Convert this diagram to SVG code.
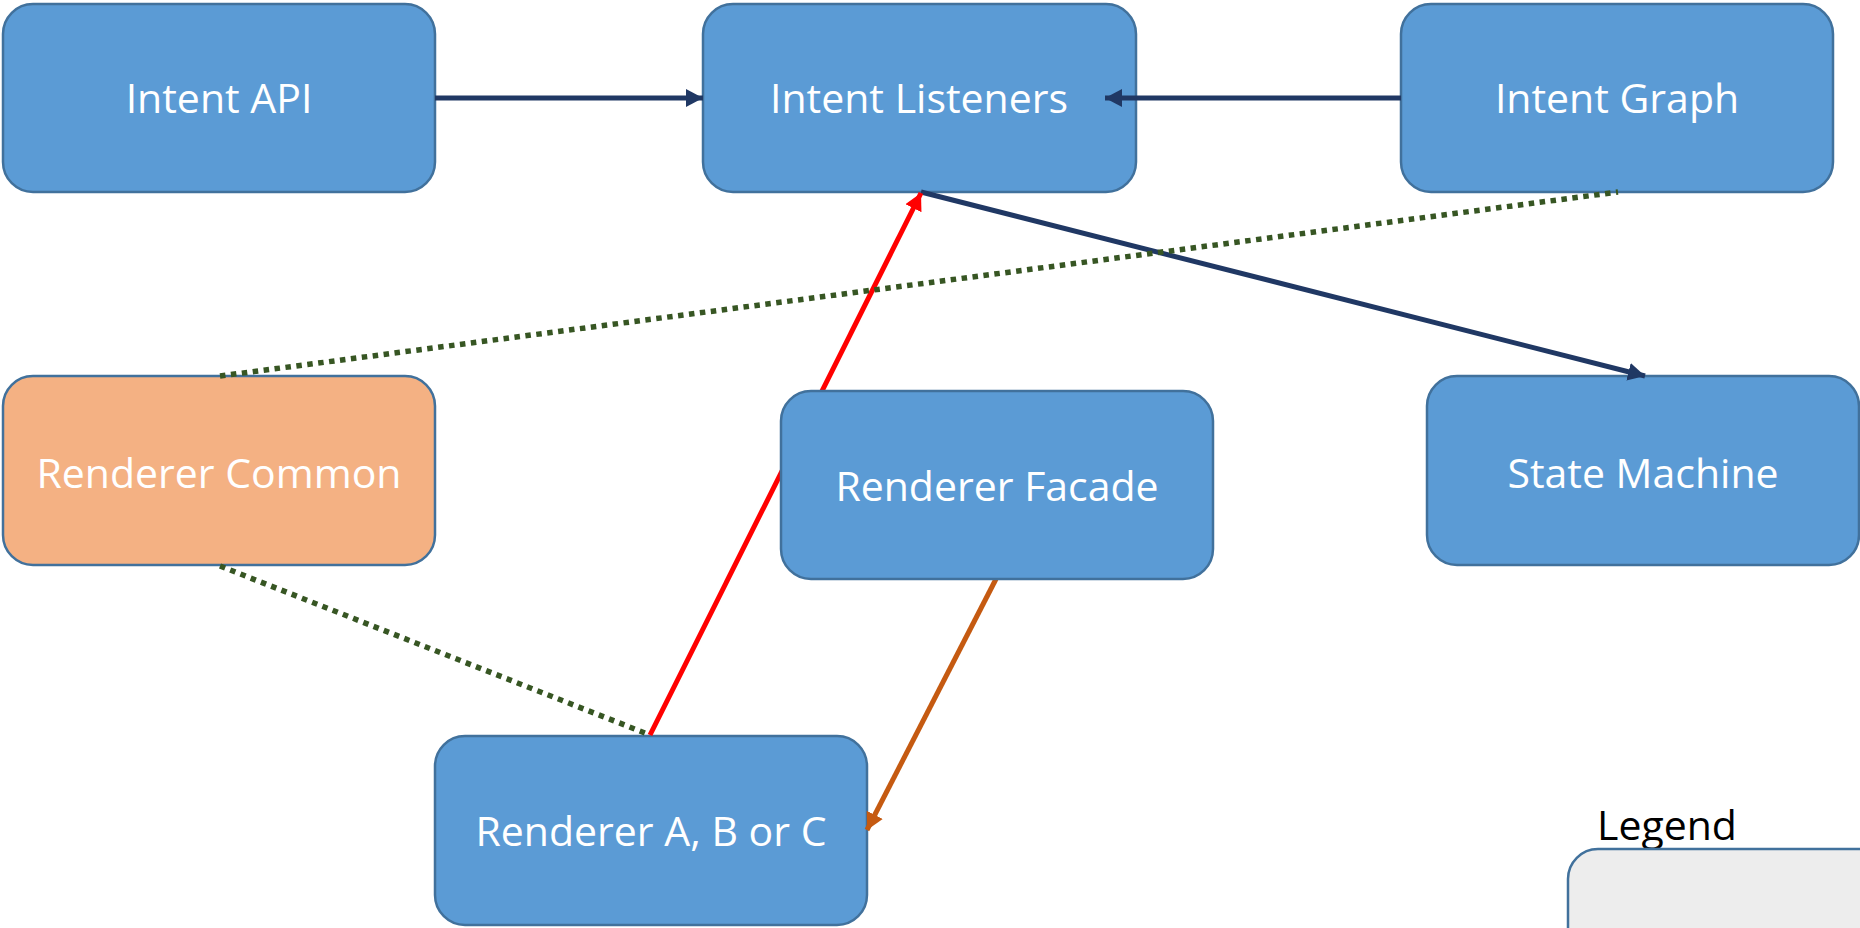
<svg xmlns="http://www.w3.org/2000/svg" width="1860" height="928" viewBox="0 0 1860 928">
<defs>
<style>
.node{fill:#5B9BD5;stroke:#41719C;stroke-width:2.5}
.orange{fill:#F4B183}
.lbl{font-family:"Open Sans","Liberation Sans",sans-serif;font-size:41px;fill:#FFFFFF;text-anchor:middle}
.navy{stroke:#203864;stroke-width:5;fill:none}
.red{stroke:#FF0000;stroke-width:5;fill:none}
.brown{stroke:#C55A11;stroke-width:5;fill:none}
.dot{stroke:#375623;stroke-width:5.5;fill:none;stroke-dasharray:5.5 5.5}
</style>
<marker id="aNavy" markerUnits="userSpaceOnUse" markerWidth="19" markerHeight="18" refX="17" refY="9" orient="auto"><path d="M0,0 L17,9 L0,18 Z" fill="#203864"/></marker>
<marker id="aRed" markerUnits="userSpaceOnUse" markerWidth="19" markerHeight="18" refX="17" refY="9" orient="auto"><path d="M0,0 L17,9 L0,18 Z" fill="#FF0000"/></marker>
<marker id="aBrown" markerUnits="userSpaceOnUse" markerWidth="19" markerHeight="18" refX="17" refY="9" orient="auto"><path d="M0,0 L17,9 L0,18 Z" fill="#C55A11"/></marker>
</defs>
<rect width="1860" height="928" fill="#FFFFFF"/>
<g id="intent-api"><rect class="node" x="3" y="4" width="432" height="188" rx="30"/><text class="lbl" x="219" y="113">Intent API</text></g>
<g id="intent-listeners"><rect class="node" x="703" y="4" width="433" height="188" rx="30"/><text class="lbl" x="919" y="113">Intent Listeners</text></g>
<g id="intent-graph"><rect class="node" x="1401" y="4" width="432" height="188" rx="30"/><text class="lbl" x="1617" y="113">Intent Graph</text></g>
<g id="renderer-common"><rect class="node orange" x="3" y="376" width="432" height="189" rx="30"/><text class="lbl" x="219" y="488">Renderer Common</text></g>
<g id="state-machine"><rect class="node" x="1427" y="376" width="432" height="189" rx="30"/><text class="lbl" x="1643" y="488">State Machine</text></g>
<g id="renderer-abc"><rect class="node" x="435" y="736" width="432" height="189" rx="30"/><text class="lbl" x="651" y="846">Renderer A, B or C</text></g>
<g id="legend"><text x="1597" y="840" font-family="'Open Sans','Liberation Sans',sans-serif" font-size="41" fill="#000000">Legend</text><rect x="1568" y="849" width="400" height="200" rx="30" fill="#EDEDED" stroke="#41719C" stroke-width="2.5"/></g>
<g id="connectors">
<line class="navy" x1="435" y1="98" x2="703" y2="98" marker-end="url(#aNavy)"/>
<line class="navy" x1="1401" y1="98" x2="1105" y2="98" marker-end="url(#aNavy)"/>
<line class="navy" x1="921" y1="192" x2="1645" y2="376" marker-end="url(#aNavy)"/>
<line class="red" x1="650" y1="735" x2="921" y2="193" marker-end="url(#aRed)"/>
<line class="brown" x1="996" y1="579" x2="867" y2="830" marker-end="url(#aBrown)"/>
<line class="dot" x1="220" y1="376" x2="1618" y2="192"/>
<line class="dot" x1="220" y1="566" x2="650" y2="735"/>
</g>
<g id="renderer-facade"><rect class="node" x="781" y="391" width="432" height="188" rx="30"/><text class="lbl" x="997" y="501">Renderer Facade</text></g>
</svg>
